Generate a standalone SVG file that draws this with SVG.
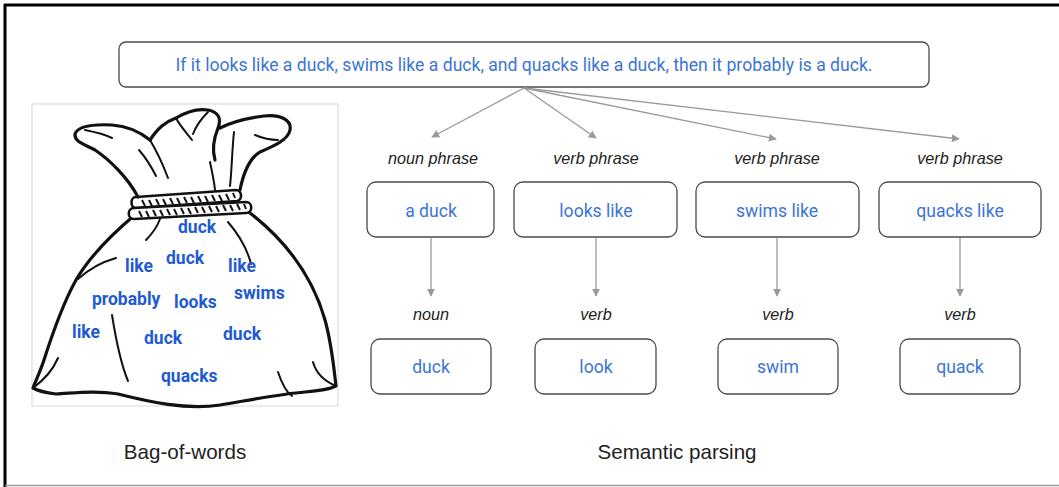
<svg xmlns="http://www.w3.org/2000/svg" width="1059" height="487" viewBox="0 0 1059 487">
  <defs>
    <marker id="arrow" viewBox="0 0 10 10" refX="9" refY="5" markerWidth="8" markerHeight="8" markerUnits="userSpaceOnUse" orient="auto">
      <path d="M0,0 L10,5 L0,10 Z" fill="#9a9a9a"/>
    </marker>
  </defs>
  <style>
    .box { fill: #ffffff; stroke: #4a4a4a; stroke-width: 1.3; }
    .btxt { font-family: Roboto, "Liberation Sans", sans-serif; font-size: 17.6px; fill: #3c74d6; text-anchor: middle; }
    .tag { font-family: "Liberation Sans", Arial, sans-serif; font-style: italic; font-size: 16.2px; fill: #222222; text-anchor: middle; }
    .cap { font-family: "Liberation Sans", Arial, sans-serif; font-size: 20.6px; fill: #222222; text-anchor: middle; }
    .edge { stroke: #9a9a9a; stroke-width: 1.3; fill: none; marker-end: url(#arrow); }
    .word { font-family: Roboto, "Liberation Sans", sans-serif; font-weight: bold; font-size: 17.5px; fill: #1f5ad2; }
    .ink { fill: none; stroke: #111111; stroke-width: 3.2; stroke-linecap: round; stroke-linejoin: round; }
    .ink2 { fill: none; stroke: #111111; stroke-width: 2; stroke-linecap: round; }
  </style>

  <!-- frame -->
  <rect x="0" y="0" width="1059" height="487" fill="#ffffff"/>
  <line x1="4" y1="5" x2="1059" y2="5" stroke="#000" stroke-width="3"/>
  <line x1="5" y1="4" x2="5" y2="487" stroke="#000" stroke-width="3"/>
  <line x1="5" y1="485.5" x2="1059" y2="485.5" stroke="#9a9a9a" stroke-width="1.5"/>

  <!-- sentence -->
  <g id="sentence">
    <rect class="box" x="119" y="42" width="810" height="45" rx="7"/>
    <text x="524" y="71" font-family="Roboto, 'Liberation Sans', sans-serif" font-size="17.6" fill="#3c74d6" text-anchor="middle">If it looks like a duck, swims like a duck, and quacks like a duck, then it probably is a duck.</text>
  </g>

  <!-- bag-of-words picture -->
  <g id="bag">
    <rect x="32" y="104" width="306" height="302" fill="#ffffff" stroke="#d6d6d6" stroke-width="1"/>
    <!-- body -->
    <path class="ink" d="M136,214 C112,234 90,256 76,280 C62,305 52,335 44,360 C40,372 36,380 33,388 C40,392 48,393 56,394 C75,393 95,390 118,394 C150,402 185,410 220,405 C250,400 280,394 305,392 C318,391 330,389 336,386 C334,370 332,345 325,320 C315,285 295,248 250,213"/>
    <!-- bottom ears -->
    <path class="ink2" d="M33,388 C44,380 52,372 58,358"/>
    <path class="ink2" d="M336,386 C324,381 316,373 313,362"/>
    <!-- fold lines -->
    <path class="ink2" d="M112,315 C116,340 120,362 128,381"/>
    <path class="ink2" d="M78,279 C90,268 102,262 116,258"/>
    <path class="ink2" d="M228,222 C240,236 248,252 251,264"/>
    <path class="ink2" d="M160,219 C156,230 150,236 146,240"/>
    <path class="ink2" d="M278,372 C282,384 286,392 292,396"/>
    <!-- rope -->
    <g>
      <path d="M136,197 L236,190 C242,190 243,200 237,201 L136,208 C130,208 130,197 136,197 Z" fill="#ffffff" stroke="#111" stroke-width="2.6"/>
      <path d="M134,208 L246,202 C253,202 253,213 246,213 L134,219 C127,219 127,208 134,208 Z" fill="#ffffff" stroke="#111" stroke-width="2.6"/>
      <path d="M142,200 l3,6 M149,200 l3,6 M156,199 l3,6 M163,199 l3,6 M170,198 l3,6 M177,198 l3,6 M184,197 l3,6 M191,197 l3,6 M198,196 l3,6 M205,196 l3,6 M212,195 l3,6 M219,195 l3,6 M226,194 l3,6 M233,193 l2,5" stroke="#111" stroke-width="2"/>
      <path d="M139,211 l3,6 M146,211 l3,6 M153,210 l3,6 M160,210 l3,6 M167,209 l3,6 M174,209 l3,6 M181,208 l3,6 M188,208 l3,6 M195,207 l3,6 M202,207 l3,6 M209,206 l3,6 M216,206 l3,6 M223,205 l3,6 M230,205 l3,6 M237,204 l3,6 M244,204 l2,5" stroke="#111" stroke-width="2"/>
    </g>
    <!-- gathered top -->
    <path class="ink" d="M138,197 C128,178 110,160 95,150 C84,144 74,142 75,134 C78,126 92,124 112,125 C128,126 140,132 150,140"/>
    <path class="ink" d="M150,140 C158,128 165,122 176,118 C186,112 196,108 208,110 C218,112 222,118 218,128 C214,138 212,150 215,160"/>
    <path class="ink" d="M220,128 C232,122 248,118 264,116 C280,114 292,120 290,130 C288,140 274,146 260,152 C250,158 244,170 240,190"/>
    <path class="ink2" d="M150,140 C156,150 162,162 168,178"/>
    <path class="ink2" d="M176,118 C180,126 186,132 192,140"/>
    <path class="ink2" d="M208,112 C200,120 196,126 193,134"/>
    <path class="ink2" d="M210,162 C212,172 214,180 215,190"/>
    <path class="ink2" d="M139,150 C146,158 152,168 156,176"/>
    <path class="ink2" d="M234,132 C232,150 232,168 230,186"/>
    <path class="ink2" d="M255,135 C262,138 270,140 278,140"/>
    <path class="ink2" d="M85,130 C95,132 104,134 112,138"/>
    <!-- words -->
    <text class="word" x="178" y="233">duck</text>
    <text class="word" x="166" y="264">duck</text>
    <text class="word" x="125" y="272">like</text>
    <text class="word" x="228" y="272">like</text>
    <text class="word" x="234" y="299">swims</text>
    <text class="word" x="92" y="305">probably</text>
    <text class="word" x="174" y="308">looks</text>
    <text class="word" x="72" y="338">like</text>
    <text class="word" x="144" y="344">duck</text>
    <text class="word" x="223" y="340">duck</text>
    <text class="word" x="161" y="382">quacks</text>
  </g>

  <!-- connectors -->
  <g id="connectors">
    <line class="edge" x1="524" y1="88" x2="432" y2="137"/>
    <line class="edge" x1="524" y1="88" x2="596" y2="138"/>
    <line class="edge" x1="524" y1="88" x2="776" y2="139"/>
    <line class="edge" x1="524" y1="88" x2="959" y2="139"/>
    <line class="edge" x1="431" y1="238" x2="431" y2="296"/>
    <line class="edge" x1="596" y1="238" x2="596" y2="296"/>
    <line class="edge" x1="777" y1="238" x2="777" y2="296"/>
    <line class="edge" x1="960" y1="238" x2="960" y2="296"/>
  </g>

  <!-- phrase level -->
  <g id="phrase-a-duck">
    <text class="tag" x="433" y="164">noun phrase</text>
    <rect class="box" x="367" y="182" width="127" height="55" rx="9"/>
    <text class="btxt" x="431" y="217">a duck</text>
  </g>
  <g id="phrase-looks-like">
    <text class="tag" x="596" y="164">verb phrase</text>
    <rect class="box" x="514" y="182" width="163" height="55" rx="9"/>
    <text class="btxt" x="596" y="217">looks like</text>
  </g>
  <g id="phrase-swims-like">
    <text class="tag" x="777" y="164">verb phrase</text>
    <rect class="box" x="696" y="182" width="163" height="55" rx="9"/>
    <text class="btxt" x="777" y="217">swims like</text>
  </g>
  <g id="phrase-quacks-like">
    <text class="tag" x="960" y="164">verb phrase</text>
    <rect class="box" x="879" y="182" width="162" height="55" rx="9"/>
    <text class="btxt" x="960" y="217">quacks like</text>
  </g>

  <!-- word level -->
  <g id="word-duck">
    <text class="tag" x="431" y="320">noun</text>
    <rect class="box" x="371" y="339" width="120" height="55" rx="9"/>
    <text class="btxt" x="431" y="373">duck</text>
  </g>
  <g id="word-look">
    <text class="tag" x="596" y="320">verb</text>
    <rect class="box" x="535" y="339" width="121" height="55" rx="9"/>
    <text class="btxt" x="596" y="373">look</text>
  </g>
  <g id="word-swim">
    <text class="tag" x="778" y="320">verb</text>
    <rect class="box" x="718" y="339" width="120" height="55" rx="9"/>
    <text class="btxt" x="778" y="373">swim</text>
  </g>
  <g id="word-quack">
    <text class="tag" x="960" y="320">verb</text>
    <rect class="box" x="900" y="339" width="120" height="55" rx="9"/>
    <text class="btxt" x="960" y="373">quack</text>
  </g>

  <!-- captions -->
  <text class="cap" x="185" y="459">Bag-of-words</text>
  <text class="cap" x="677" y="459">Semantic parsing</text>
</svg>
